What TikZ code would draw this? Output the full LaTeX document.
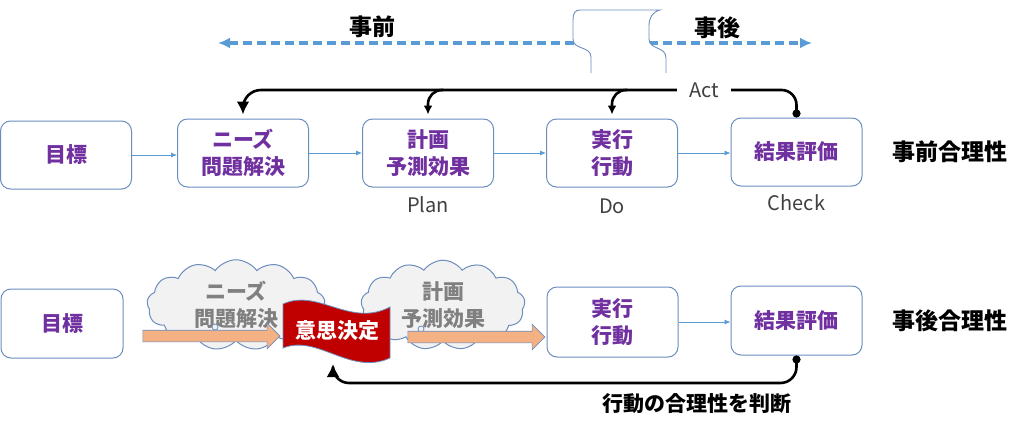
\documentclass[tikz,border=0pt]{standalone}
\usepackage{fontspec}
\setmainfont{Noto Sans CJK JP}
\usetikzlibrary{shapes,shapes.symbols,shapes.arrows,arrows.meta,positioning,calc}
\definecolor{boxblue}{RGB}{108,142,191}
\definecolor{flowblue}{RGB}{91,155,213}
\definecolor{labelpurple}{RGB}{112,48,160}
\definecolor{peach}{RGB}{244,177,131}
\definecolor{flagred}{RGB}{192,0,0}
\definecolor{cloudgray}{RGB}{242,242,242}
\definecolor{inkgray}{RGB}{64,64,64}

\begin{document}
\begin{tikzpicture}[x=1pt,y=-1pt,
			stepbox/.style={draw=boxblue,line width=1pt,rounded corners=10pt,fill=white,minimum width=131pt,minimum height=68pt,align=center,text=labelpurple,font=\bfseries\fontsize{21}{27}\selectfont},
			flow/.style={flowblue,line width=0.8pt,-{Latex[length=6pt,width=5pt]}},
			actline/.style={line width=2.6pt},
			timeline/.style={flowblue,line width=3.4pt,dash pattern=on 9pt off 5pt,{Latex[length=12pt,width=11pt]}-{Latex[length=12pt,width=11pt]}},
			phase/.style={font=\fontsize{20}{24}\selectfont,text=inkgray},
			verdict/.style={font=\bfseries\fontsize{23}{27}\selectfont},
			thought/.style={cloud,cloud puffs=13,cloud puff arc=110,cloud ignores aspect,draw=boxblue,line width=1pt,fill=cloudgray,align=center,text=gray,font=\bfseries\fontsize{21}{27}\selectfont},
			fatarrow/.style={single arrow,draw=boxblue,line width=0.6pt,fill=peach,inner xsep=0pt,inner ysep=5.5pt,single arrow head extend=7pt,single arrow head indent=0pt,minimum height=137pt}
		]
		\useasboundingbox[fill=white] (0,0) rectangle (1024,431);

		% top row
		\node[stepbox] (goal1) at (66,155) {目標};
		\node[stepbox] (needs1) at (243,153) {ニーズ\\問題解決};
		\node[stepbox] (plan1) at (428,153) {計画\\予測効果};
		\node[stepbox] (do1) at (612,153) {実行\\行動};
		\node[stepbox] (res1) at (796.5,152) {結果評価};

		\node[phase,below=6pt of plan1] (planlbl) {Plan};
		\node[phase,below=8pt of do1] (dolbl) {Do};
		\node[phase,below=5pt of res1] (checklbl) {Check};
		\node[verdict,right=26pt of res1] (exante) {事前合理性};

		\draw[flow] (goal1.east) -- (goal1.east -| needs1.west);
		\draw[flow] (needs1) -- (plan1);
		\draw[flow] (plan1) -- (do1);
		\draw[flow] (do1.east) -- (do1.east -| res1.west);

		\node[phase,inner xsep=12pt,inner ysep=2pt] (act) at (704,90) {Act};
		\draw[actline,-{Latex[length=13pt,width=13pt]},rounded corners=18pt,shorten >=4pt] (act.west) -| (needs1.north);
		\draw[actline,-{Latex[length=9pt,width=9pt]},rounded corners=14pt] ($(plan1.north |- act.west)+(15,0)$) -| ([yshift=4pt]plan1.north);
		\draw[actline,-{Latex[length=9pt,width=9pt]},rounded corners=14pt] ($(do1.north |- act.west)+(15,0)$) -| ([yshift=4pt]do1.north);
		\draw[actline,{Circle[length=8pt]}-,rounded corners=15pt] (res1.north) |- (act.east);

		% time axis with break
		\coordinate (pastend) at (218,43);
		\coordinate (futend) at (812,43);
		\draw[timeline] (pastend) -- (futend);
		\fill[white] (591,73) -- (591,57) .. controls (591,46) and (573,50) .. (573,39) -- (573,20) .. controls (573,13) and (575,10) .. (580,10) -- (660,10) .. controls (652,12) and (649,18) .. (649,26) -- (649,39) .. controls (649,50) and (666,46) .. (666,58) -- (666,73) -- cycle;
		\draw[boxblue,line width=0.9pt] (591,73) -- (591,57) .. controls (591,46) and (573,50) .. (573,39) -- (573,20) .. controls (573,13) and (575,10) .. (580,10) -- (660,10) .. controls (652,12) and (649,18) .. (649,26) -- (649,39) .. controls (649,50) and (666,46) .. (666,58) -- (666,73);
		\node[verdict] (before) at (372,27) {事前};
		\node[verdict] (after) at (717,28) {事後};

		% bottom row
		\node[stepbox,minimum width=122pt,minimum height=69pt] (goal2) at (62,323.5) {目標};
		\node[thought,minimum width=178pt,minimum height=85pt] (needs2) at (236,305) {ニーズ\\問題解決};
		\node[thought,minimum width=164pt,minimum height=86pt] (plan2) at (443,305) {計画\\予測効果};
		\draw[boxblue,fill=cloudgray,line width=0.8pt] (215,327) circle (3);
		\draw[boxblue,fill=cloudgray,line width=0.8pt] (421,329) circle (3);
		\node[stepbox,minimum height=70pt] (do2) at (612.5,322) {実行\\行動};
		\node[stepbox,minimum height=69pt] (res2) at (796.5,320.5) {結果評価};
		\node[verdict,right=26pt of res2] (expost) {事後合理性};

		\node[fatarrow] (arr1) at (208.5,336) {};
		\node[fatarrow] (arr2) at (473.5,337) {};
		\draw[flow] (do2.east) -- (do2.east -| res2.west);

		\draw[boxblue,line width=0.8pt,fill=flagred] (283,304) .. controls (318,288) and (350,328) .. (390,307) -- (390,358) .. controls (350,376) and (318,334) .. (283,348) -- cycle;
		\node[text=white,font=\bfseries\fontsize{21}{25}\selectfont] (flag) at (337,331) {意思決定};

		\coordinate (loopturn) at (333,383);
		\coordinate (flagtip) at (333,364);
		\draw[actline,{Circle[length=8pt]}-{Latex[length=13pt,width=13pt]},rounded corners=16pt] (res2.south) |- (loopturn) -- (flagtip);
		\node[font=\bfseries\fontsize{21}{25}\selectfont] (judge) at (697,404) {行動の合理性を判断};

	\end{tikzpicture}
\end{document}
